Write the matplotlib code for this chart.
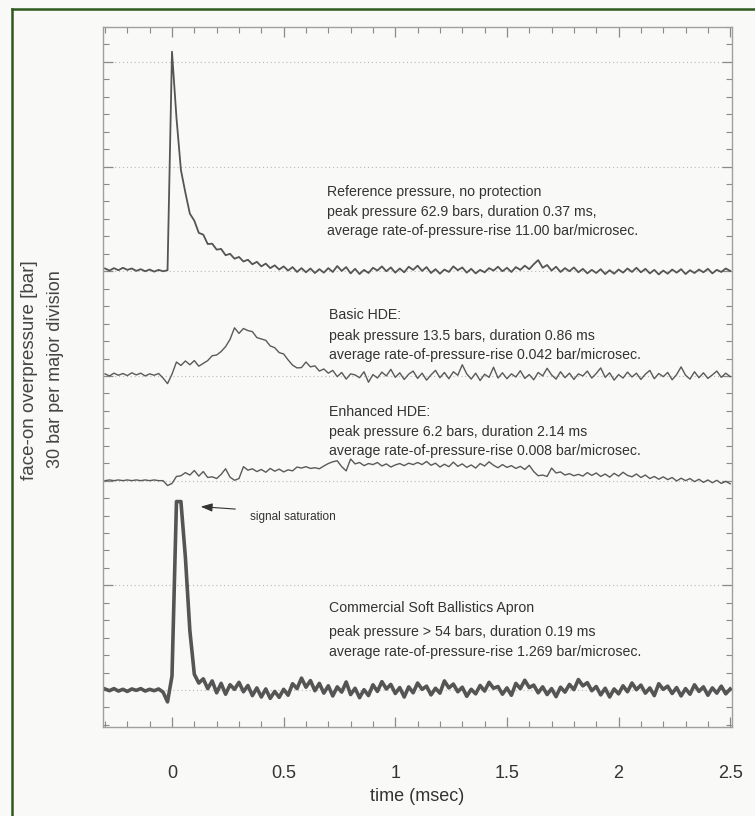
import numpy as np
import matplotlib.pyplot as plt
from matplotlib.lines import Line2D
from matplotlib.ticker import MultipleLocator

plt.rcParams['font.family'] = ['Liberation Sans', 'DejaVu Sans']

# sample grid of the scope traces (ms)
t0 = -0.30
dt = 0.02

# overpressure, bar above each trace's own baseline
reference = [
    0.8, 0.2, 0.9, 0.3, 1.0, 0.4, 0.8, 0.1, 0.6, 0.0,
    0.5, -0.1, 0.4, 0.0, 0.3, 62.9, 44.0, 29.0, 22.5, 16.5,
    14.5, 11.0, 10.5, 7.8, 7.9, 6.2, 6.4, 4.6, 5.0, 3.6,
    4.1, 2.8, 3.3, 2.0, 2.7, 1.4, 2.2, 0.9, 1.7, 0.5,
    1.4, 0.2, 1.2, -0.2, 0.9, -0.3, 0.8, -0.5, 0.6, -0.4,
    0.9, -0.2, 1.5, 0.1, 1.2, -0.6, 0.7, -0.8, 0.4, -0.5,
    1.0, 0.2, 1.4, 0.0, 1.1, -0.4, 0.8, -0.3, 1.3, 0.4,
    1.6, 0.1, 1.2, -0.5, 0.6, -0.7, 0.5, -0.2, 1.4, 0.3,
    1.1, -0.4, 0.7, -0.6, 0.4, -0.3, 0.9, 0.2, 1.3, 0.0,
    1.0, -0.2, 1.2, 0.4, 1.6, 0.6, 2.0, 3.2, 1.0, 1.8,
    0.2, 1.3, -0.2, 0.9, 0.0, 1.1, -0.3, 0.7, -0.6, 0.4,
    -0.5, 0.6, -0.8, 0.3, -0.7, 0.5, -0.4, 0.8, -0.2, 1.0,
    -0.3, 0.7, -0.6, 0.4, -0.9, 0.2, -0.7, 0.5, -0.4, 0.6,
    -0.8, 0.3, -0.5, 0.5, -0.3, 0.7, -0.6, 0.4, -0.2, 0.8,
    0.1,
]
basic_hde = [
    0.6, 0.0, 0.8, 0.2, 0.7, 0.1, 0.9, 0.3, 0.8, 0.0,
    0.6, 0.2, 0.7, -0.6, -2.2, 0.5, 4.0, 3.0, 4.3, 3.2,
    4.4, 2.8, 3.6, 4.4, 5.8, 6.0, 7.0, 8.4, 10.5, 13.8,
    12.2, 13.6, 13.0, 12.7, 11.0, 10.6, 10.2, 8.6, 8.1, 6.7,
    6.3, 4.6, 3.1, 2.3, 2.4, 4.0, 2.6, 2.9, 1.4, 2.0,
    0.8, 1.6, -0.2, 1.0, -0.9, 0.6, 0.3, -0.5, 1.2, -1.8,
    0.4, -0.6, 1.1, 0.0, 1.9, -0.4, 0.9, -1.0, 0.5, 1.4,
    -0.7, 0.8, -1.2, 0.3, 1.6, -0.5, 1.0, -0.8, 1.2, 0.2,
    3.2, 0.6, -0.9, 0.8, -1.3, 0.5, -0.4, 2.5, -0.6, 0.9,
    -0.8, 0.6, -0.3, 1.5, -0.7, 0.4, -1.1, 1.0, 0.0, 2.2,
    0.3, -0.9, 1.2, -0.5, 0.8, -1.0, 0.6, 0.0, 1.4, -0.6,
    0.7, 2.3, -0.4, 0.9, -1.2, 0.4, -0.6, 1.1, -0.3, 0.8,
    -1.0, 0.5, 1.6, -0.8, 0.7, -0.2, 1.0, -1.1, 0.4, 2.6,
    0.2, -0.9, 1.2, -0.5, 0.9, -0.7, 0.3, 1.4, -0.4, 0.8,
    -0.2,
]
enhanced_hde = [
    0.0, 0.2, 0.0, 0.2, 0.0, 0.2, 0.0, 0.2, 0.0, 0.2,
    0.0, 0.2, 0.0, 0.0, -1.4, -0.8, 1.2, 1.4, 2.3, 1.6,
    2.9, 1.3, 2.6, 0.9, 1.1, 0.6, 1.8, 3.4, 1.0, 0.1,
    0.6, 4.0, 3.0, 3.4, 2.6, 3.2, 2.4, 3.5, 2.7, 3.3,
    2.5, 3.1, 2.8, 3.9, 3.6, 4.0, 3.5, 3.7, 3.4, 4.2,
    4.9, 5.4, 5.7, 4.0, 2.8, 6.2, 4.8, 5.2, 4.3, 4.9,
    4.6, 5.2, 4.2, 4.8, 3.9, 4.5, 4.9, 4.3, 5.0, 4.6,
    5.2, 4.6, 5.5, 4.4, 5.0, 3.9, 4.7, 4.0, 5.3, 4.1,
    4.8, 3.8, 4.5, 3.6, 4.9, 4.2, 5.4, 4.4, 3.7, 4.6,
    3.8, 4.3, 3.5, 4.1, 3.2, 4.4, 2.6, 1.4, 1.6, 1.2,
    3.6, 2.2, 2.5, 1.6, 2.0, 1.4, 1.8, 1.3, 2.3, 1.5,
    2.2, 1.2, 1.9, 1.0, 2.1, 1.3, 2.4, 1.5, 1.1, 1.9,
    0.9, 1.6, 0.6, 1.2, 0.4, 1.1, 0.3, 0.9, -0.1, 0.7,
    0.0, 0.6, -0.3, 0.4, -0.5, 0.2, -0.6, 0.1, -0.8, -0.2,
    -0.9,
]
apron = [
    0.3, -0.2, 0.4, -0.3, 0.2, -0.4, 0.3, -0.1, 0.4, -0.3,
    0.2, -0.2, 0.3, -0.6, -3.4, 4.0, 54.0, 54.0, 38.0, 17.0,
    4.5, 2.0, 3.2, 0.4, 2.6, -0.8, 1.9, -1.2, 1.5, 0.2,
    2.2, -0.5, 1.3, -1.6, 0.6, -2.0, 0.3, -2.4, -0.4, -2.1,
    0.2, -1.5, 1.8, 0.4, 3.4, 0.8, 2.7, -0.2, 1.9, -0.9,
    1.2, -1.7, 0.9, -0.6, 2.3, -1.3, 0.5, -2.2, 0.1, -1.6,
    1.5, -0.4, 2.4, 0.3, 1.6, -1.0, 0.7, -2.0, 0.9, -0.8,
    2.0, 0.2, 1.1, -1.4, 0.5, -0.9, 2.6, 0.6, 1.7, -0.5,
    0.8, -1.8, 0.2, -1.1, 1.3, -0.3, 2.2, 0.5, 1.0, -1.2,
    0.6, -1.5, 1.9, 0.4, 2.8, 0.7, 1.4, -0.8, 0.9, -1.3,
    0.4, -1.9, 0.8, -0.6, 1.6, 0.1, 3.0, 1.2, 2.1, -0.2,
    1.0, -1.4, 0.5, -2.0, 0.3, -1.1, 1.2, -0.5, 2.0, 0.1,
    1.4, -0.9, 0.6, -1.6, 1.8, 0.2, 1.1, -1.0, 0.7, -1.7,
    0.4, -1.2, 1.5, -0.4, 0.9, -1.5, 0.6, -0.9, 1.1, -1.1,
    0.3,
]
# stacking of the traces on the screen (bar)
baselines = [120, 90, 60, 0]

notes = [
    ["Reference pressure, no protection",
     "peak pressure 62.9 bars, duration 0.37 ms,",
     "average rate-of-pressure-rise 11.00 bar/microsec."],
    ["Basic HDE:",
     "peak pressure 13.5 bars, duration 0.86 ms",
     "average rate-of-pressure-rise 0.042 bar/microsec."],
    ["Enhanced HDE:",
     "peak pressure 6.2 bars, duration 2.14 ms",
     "average rate-of-pressure-rise 0.008 bar/microsec."],
    ["Commercial Soft Ballistics Apron",
     "peak pressure > 54 bars, duration 0.19 ms",
     "average rate-of-pressure-rise 1.269 bar/microsec."],
]
note_y = [[142.7, 137.0, 131.5], [107.5, 101.5, 96.0],
          [79.7, 73.9, 68.5], [23.5, 16.6, 10.9]]

bg = '#f9f9f7'
fig = plt.figure(figsize=(7.55, 8.16), dpi=100, facecolor=bg)
ax = fig.add_axes([103 / 755, 1 - 727 / 816, 629 / 755, 700 / 816], facecolor=bg)

t = t0 + dt * np.arange(len(reference))
traces = [reference, basic_hde, enhanced_hde, apron]
for k, tr in enumerate(traces):
    y = np.array(tr) + baselines[k]
    if k == 3:
        ax.plot(t, y, color='#555555', lw=2.6, solid_joinstyle='round')
    elif k == 0:
        ax.plot(t, y, color='#555555', lw=1.3)
    else:
        ax.plot(t, y, color='#5a5a5a', lw=1.0)

ax.set_xlim(-0.309, 2.508)
ax.set_ylim(-10.6, 190.0)

for g in range(0, 181, 30):
    ax.axhline(g, color='#b8b8b8', lw=0.8, ls=(0, (1, 2.5)), zorder=0)

ax.xaxis.set_major_locator(MultipleLocator(0.5))
ax.xaxis.set_minor_locator(MultipleLocator(0.1))
ax.yaxis.set_major_locator(MultipleLocator(30))
ax.yaxis.set_minor_locator(MultipleLocator(5))
ax.set_xticks([0, 0.5, 1, 1.5, 2, 2.5])
ax.set_xticklabels(['0', '0.5', '1', '1.5', '2', '2.5'])
ax.tick_params(which='both', direction='in', top=True, right=True,
               color='#8a8a8a', labelleft=False)
ax.tick_params(which='major', length=7, width=0.9)
ax.tick_params(which='minor', length=4, width=0.8)
ax.tick_params(axis='x', labelsize=13, labelcolor='#333333', pad=27)
for s in ax.spines.values():
    s.set_color('#a0a0a0')
    s.set_linewidth(1.0)

ax.set_xlabel('time (msec)', fontsize=13, color='#333333', labelpad=5)

fig.text(30 / 755, 1 - 370 / 816, 'face-on overpressure [bar]', rotation=90,
         ha='center', va='center', fontsize=13.5, color='#444444')
fig.text(56 / 755, 1 - 369 / 816, '30 bar per major division', rotation=90,
         ha='center', va='center', fontsize=13, color='#444444')

for k, lines in enumerate(notes):
    x0 = 0.694 if k == 0 else 0.705
    for line, yy in zip(lines, note_y[k]):
        ax.text(x0, yy, line, fontsize=10.2, color='#333333', va='center', ha='left')

ax.annotate('', xy=(0.116, 52.6), xytext=(0.296, 51.8),
            arrowprops=dict(arrowstyle='-|>,head_length=0.7,head_width=0.25',
                            color='#333333', lw=0.8))
ax.text(0.349, 49.6, 'signal saturation', fontsize=8.5, color='#333333',
        va='center', ha='left')

# green frame of the page
fig.add_artist(Line2D([12 / 755, 1], [1 - 9 / 816, 1 - 9 / 816],
                      transform=fig.transFigure, color='#2f5a1f', lw=1.8))
fig.add_artist(Line2D([12 / 755, 12 / 755], [0, 1 - 9 / 816],
                      transform=fig.transFigure, color='#2f5a1f', lw=1.8))

fig.savefig('out.png', dpi=100, facecolor=bg)
